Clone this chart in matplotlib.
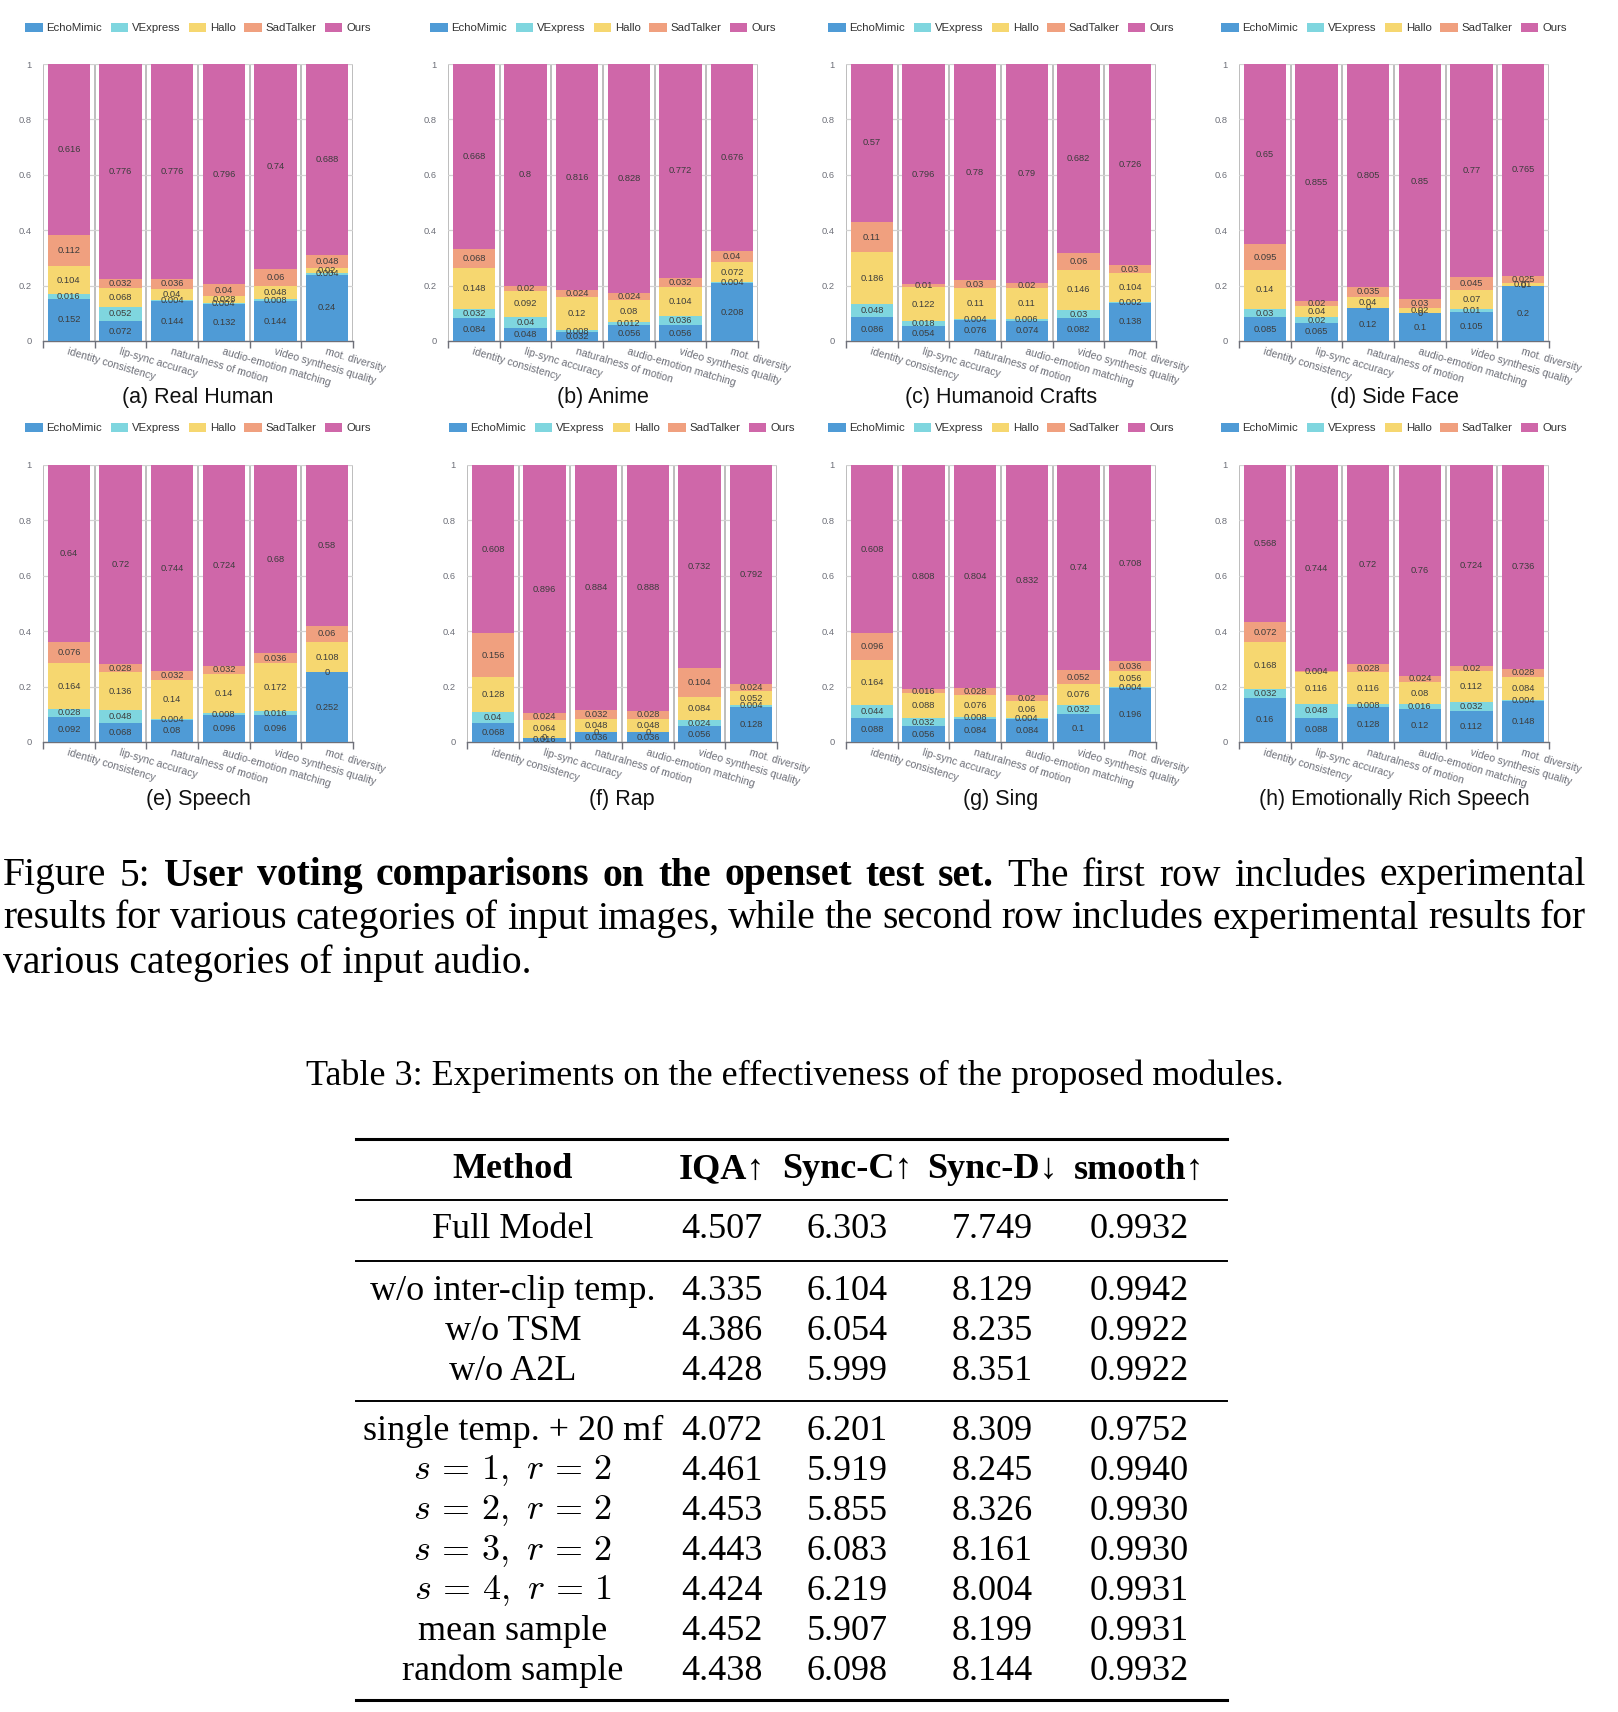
import matplotlib

matplotlib.use("Agg")
import matplotlib.pyplot as plt
import matplotlib.patches as mpatches
import numpy as np

W, H = 1618, 1712
plt.rcParams["mathtext.fontset"] = "cm"
SANS = ["Liberation Sans", "DejaVu Sans"]
SERIF = ["Liberation Serif", "DejaVu Serif"]

# ─── chart data: rows are EchoMimic, VExpress, Hallo, SadTalker, Ours ───────
criteria = ["identity consistency", "lip-sync accuracy", "naturalness of motion",
            "audio-emotion matching", "video synthesis quality", "mot. diversity"]
methods = ["EchoMimic", "VExpress", "Hallo", "SadTalker", "Ours"]
colours = ["#4f9bd6", "#7fd6df", "#f6d770", "#f0a07f", "#cf67a9"]

real_human = [
    [0.152, 0.072, 0.144, 0.132, 0.144, 0.24],
    [0.016, 0.052, 0.004, 0.004, 0.008, 0.004],
    [0.104, 0.068, 0.04, 0.028, 0.048, 0.02],
    [0.112, 0.032, 0.036, 0.04, 0.06, 0.048],
    [0.616, 0.776, 0.776, 0.796, 0.74, 0.688],
]
anime = [
    [0.084, 0.048, 0.032, 0.056, 0.056, 0.208],
    [0.032, 0.04, 0.008, 0.012, 0.036, 0.004],
    [0.148, 0.092, 0.12, 0.08, 0.104, 0.072],
    [0.068, 0.02, 0.024, 0.024, 0.032, 0.04],
    [0.668, 0.8, 0.816, 0.828, 0.772, 0.676],
]
humanoid_crafts = [
    [0.086, 0.054, 0.076, 0.074, 0.082, 0.138],
    [0.048, 0.018, 0.004, 0.006, 0.03, 0.002],
    [0.186, 0.122, 0.11, 0.11, 0.146, 0.104],
    [0.11, 0.01, 0.03, 0.02, 0.06, 0.03],
    [0.57, 0.796, 0.78, 0.79, 0.682, 0.726],
]
side_face = [
    [0.085, 0.065, 0.12, 0.1, 0.105, 0.2],
    [0.03, 0.02, 0, 0, 0.01, 0],
    [0.14, 0.04, 0.04, 0.02, 0.07, 0.01],
    [0.095, 0.02, 0.035, 0.03, 0.045, 0.025],
    [0.65, 0.855, 0.805, 0.85, 0.77, 0.765],
]
speech = [
    [0.092, 0.068, 0.08, 0.096, 0.096, 0.252],
    [0.028, 0.048, 0.004, 0.008, 0.016, 0],
    [0.164, 0.136, 0.14, 0.14, 0.172, 0.108],
    [0.076, 0.028, 0.032, 0.032, 0.036, 0.06],
    [0.64, 0.72, 0.744, 0.724, 0.68, 0.58],
]
rap = [
    [0.068, 0.016, 0.036, 0.036, 0.056, 0.128],
    [0.04, 0, 0, 0, 0.024, 0.004],
    [0.128, 0.064, 0.048, 0.048, 0.084, 0.052],
    [0.156, 0.024, 0.032, 0.028, 0.104, 0.024],
    [0.608, 0.896, 0.884, 0.888, 0.732, 0.792],
]
sing = [
    [0.088, 0.056, 0.084, 0.084, 0.1, 0.196],
    [0.044, 0.032, 0.008, 0.004, 0.032, 0.004],
    [0.164, 0.088, 0.076, 0.06, 0.076, 0.056],
    [0.096, 0.016, 0.028, 0.02, 0.052, 0.036],
    [0.608, 0.808, 0.804, 0.832, 0.74, 0.708],
]
emotional_speech = [
    [0.16, 0.088, 0.128, 0.12, 0.112, 0.148],
    [0.032, 0.048, 0.008, 0.016, 0.032, 0.004],
    [0.168, 0.116, 0.116, 0.08, 0.112, 0.084],
    [0.072, 0.004, 0.028, 0.024, 0.02, 0.028],
    [0.568, 0.744, 0.72, 0.76, 0.724, 0.736],
]

panels = [
    ("(a) Real Human", real_human),
    ("(b) Anime", anime),
    ("(c) Humanoid Crafts", humanoid_crafts),
    ("(d) Side Face", side_face),
    ("(e) Speech", speech),
    ("(f) Rap", rap),
    ("(g) Sing", sing),
    ("(h) Emotionally Rich Speech", emotional_speech),
]

# ─── table data ─────────────────────────────────────────────────────────────
table_header = ["Method", "IQA↑", "Sync-C↑", "Sync-D↓", "smooth↑"]
table_methods = ["Full Model", "w/o inter-clip temp.", "w/o TSM", "w/o A2L",
                 "single temp. + 20 mf", r"$s\,=\,1,\ r\,=\,2$", r"$s\,=\,2,\ r\,=\,2$",
                 r"$s\,=\,3,\ r\,=\,2$", r"$s\,=\,4,\ r\,=\,1$", "mean sample", "random sample"]
iqa = [4.507, 4.335, 4.386, 4.428, 4.072, 4.461, 4.453, 4.443, 4.424, 4.452, 4.438]
sync_c = [6.303, 6.104, 6.054, 5.999, 6.201, 5.919, 5.855, 6.083, 6.219, 5.907, 6.098]
sync_d = [7.749, 8.129, 8.235, 8.351, 8.309, 8.245, 8.326, 8.161, 8.004, 8.199, 8.144]
smooth = [0.9932, 0.9942, 0.9922, 0.9922, 0.9752, 0.9940, 0.9930, 0.9930, 0.9931, 0.9931, 0.9932]

caption_line1 = [("Figure", "normal"), ("5:", "normal"), ("User", "bold"), ("voting", "bold"),
                 ("comparisons", "bold"), ("on", "bold"), ("the", "bold"), ("openset", "bold"),
                 ("test", "bold"), ("set.", "bold"), ("The", "normal"), ("first", "normal"),
                 ("row", "normal"), ("includes", "normal"), ("experimental", "normal")]
caption_line2 = "results for various categories of input images, while the second row includes experimental results for"
caption_line3 = "various categories of input audio."


# ─── layout helpers (pixel boxes → figure fractions) ────────────────────────
def add_axes_px(fig, left, top, width, height):
    return fig.add_axes([left / W, 1 - (top + height) / H, width / W, height / H])


def draw_panel(ax, shares):
    x = np.arange(len(criteria))
    bottom = np.zeros(len(criteria))
    for vals, col in zip(shares, colours):
        vals = np.asarray(vals, dtype=float)
        ax.bar(x, vals, width=0.82, bottom=bottom, color=col, linewidth=0, zorder=3)
        for xi, b, v in zip(x, bottom, vals):
            ax.text(xi, b + v / 2, f"{v:g}", ha="center", va="center",
                    fontsize=6.7, color="#3c3c3c", family=SANS, zorder=4)
        bottom += vals

    ax.set_xlim(-0.5, len(criteria) - 0.5)
    ax.set_ylim(0, 1)
    ax.set_axisbelow(True)
    bounds = np.arange(-0.5, len(criteria), 1.0)
    ax.set_xticks(bounds)
    ax.set_xticklabels([])
    ax.set_xticks(x, minor=True)
    ax.set_xticklabels(criteria, minor=True, rotation=-16.5, ha="left",
                       rotation_mode="anchor", fontsize=7.6, color="#6e7079", family=SANS)
    ax.tick_params(axis="x", which="major", length=5, width=1, color="#6e7079")
    ax.tick_params(axis="x", which="minor", length=0, pad=4)
    ax.set_yticks([0, 0.2, 0.4, 0.6, 0.8, 1.0])
    ax.set_yticklabels(["0", "0.2", "0.4", "0.6", "0.8", "1"], fontsize=6.7,
                       color="#6e7079", family=SANS)
    ax.tick_params(axis="y", length=0, pad=8)
    ax.grid(axis="x", which="major", color="#bdbdbd", linewidth=1.4)
    ax.grid(axis="y", color="#d2d2d2", linewidth=0.9)
    for side in ("top", "right", "left"):
        ax.spines[side].set_visible(False)
    ax.spines["bottom"].set_color("#6e7079")
    ax.spines["bottom"].set_linewidth(1.0)


fig = plt.figure(figsize=(W / 100, H / 100), dpi=100)
fig.patch.set_facecolor("white")

axes_lefts = [43, 448, 846, 1239, 43, 467, 846, 1239]
axes_tops = [64] * 4 + [465] * 4
legend_y = [28] * 4 + [428] * 4
title_y = [397] * 4 + [799] * 4
AX_W, AX_H = 310, 277

handles = [mpatches.Patch(facecolor=c, edgecolor="none") for c in colours]
for i, (title, shares) in enumerate(panels):
    ax = add_axes_px(fig, axes_lefts[i], axes_tops[i], AX_W, AX_H)
    draw_panel(ax, shares)
    cx = (axes_lefts[i] + AX_W / 2) / W
    fig.legend(handles, methods, loc="center", bbox_to_anchor=(cx, 1 - legend_y[i] / H),
               ncol=5, frameon=False, prop={"family": SANS, "size": 8.2},
               handlelength=1.5, handleheight=0.8, handletextpad=0.35,
               columnspacing=0.75, labelcolor="#333333")
    fig.text(cx, 1 - title_y[i] / H, title, ha="center", va="center",
             fontsize=15.5, family=SANS, color="#111111")

# ─── caption (first two lines justified) ────────────────────────────────────
CAP_SIZE = 28.5
renderer = fig.canvas.get_renderer()


def justify(words, y_px, x0_px, x1_px):
    texts = [fig.text(0, 1 - y_px / H, w, fontsize=CAP_SIZE, fontweight=wt,
                      family=SERIF, va="center", ha="left") for w, wt in words]
    widths = [t.get_window_extent(renderer).width for t in texts]
    gap = ((x1_px - x0_px) - sum(widths)) / (len(texts) - 1)
    x = x0_px
    for t, wd in zip(texts, widths):
        t.set_x(x / W)
        x += wd + gap


justify(caption_line1, 876, 3, 1586)
justify([(w, "normal") for w in caption_line2.split()], 919, 3, 1586)
fig.text(3 / W, 1 - 963 / H, caption_line3, fontsize=CAP_SIZE, family=SERIF,
         va="center", ha="left")

# ─── table ──────────────────────────────────────────────────────────────────
fig.text(795 / W, 1 - 1076 / H,
         "Table 3: Experiments on the effectiveness of the proposed modules.",
         fontsize=26, family=SERIF, ha="center", va="center")

col_x = [513, 722, 847, 992, 1139]
header_y = 1170
row_y = [1230, 1291, 1331, 1371, 1431, 1471, 1511, 1551, 1591, 1631, 1671]
rules = [(1139, 2.2), (1200, 1.4), (1261, 1.4), (1401, 1.4), (1700, 2.2)]
TAB_SIZE = 26

for y, lw in rules:
    fig.add_artist(plt.Line2D([356 / W, 1227 / W], [1 - y / H, 1 - y / H],
                              color="black", linewidth=lw))

for cx, head in zip(col_x, table_header):
    fig.text(cx / W, 1 - header_y / H, head, fontsize=TAB_SIZE, fontweight="bold",
             family=SERIF, ha="center", va="center")

for i, y in enumerate(row_y):
    cells = [table_methods[i], f"{iqa[i]:.3f}", f"{sync_c[i]:.3f}",
             f"{sync_d[i]:.3f}", f"{smooth[i]:.4f}"]
    for cx, cell in zip(col_x, cells):
        fig.text(cx / W, 1 - y / H, cell, fontsize=TAB_SIZE, family=SERIF,
                 ha="center", va="center")

fig.savefig("out.png", dpi=100, facecolor="white")
